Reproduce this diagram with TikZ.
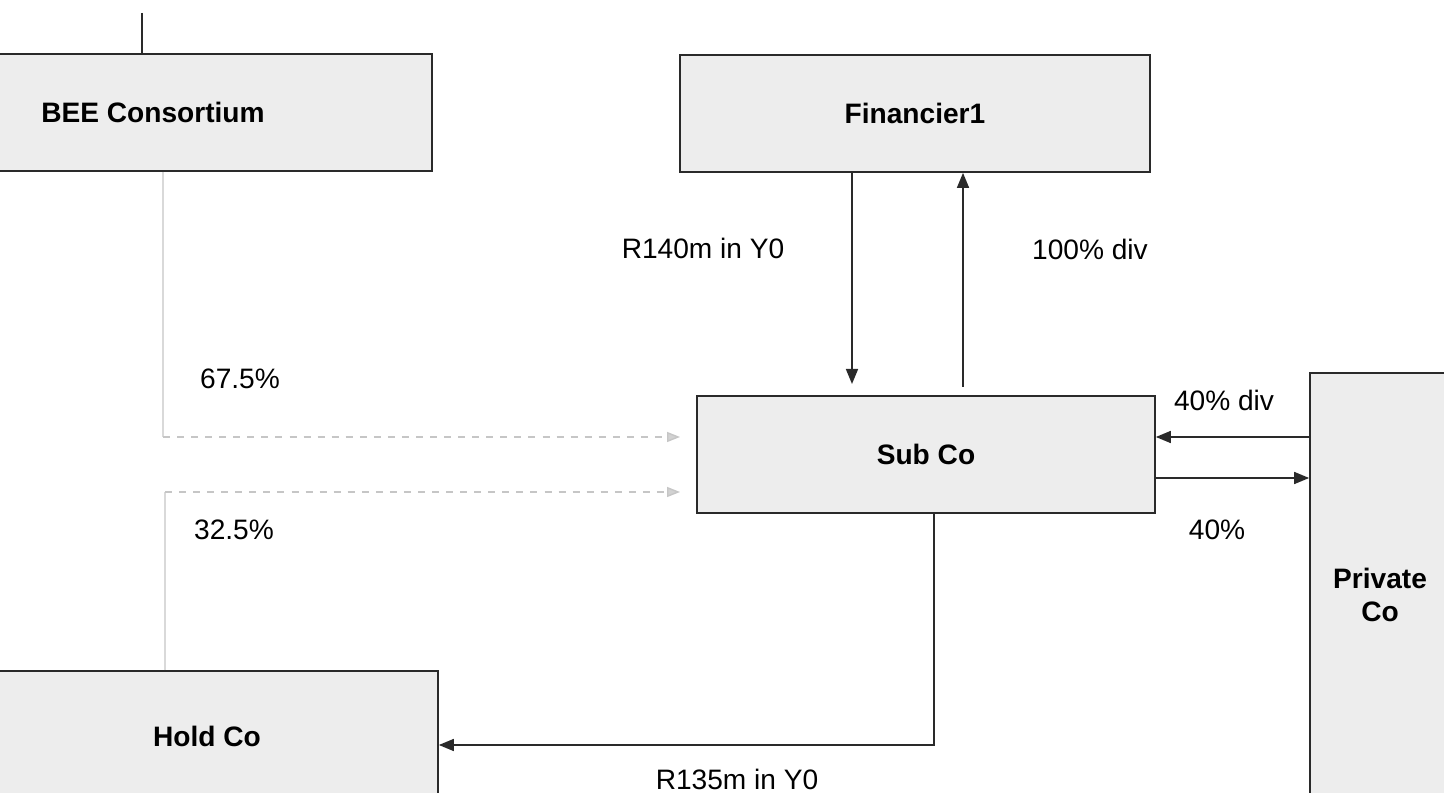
\documentclass[tikz,border=0pt]{standalone}
\usepackage{fontspec}
\setmainfont{Liberation Sans}
\usepackage{tikz}
\usetikzlibrary{positioning,calc,arrows.meta}
\definecolor{boxgray}{HTML}{EDEDED}
\definecolor{linegray}{HTML}{2A2A2A}
\tikzset{
  box/.style={draw=linegray, fill=boxgray, line width=1pt, font=\fontsize{16pt}{19pt}\selectfont\bfseries, align=center, inner sep=0pt},
  lbl/.style={font=\fontsize{16pt}{19pt}\selectfont, inner sep=0pt},
  arr/.style={draw=linegray, line width=0.9pt, -{Triangle[length=0.3cm,width=0.24cm]}},
  faint/.style={draw=gray!30, line width=0.8pt},
  dasharr/.style={draw=gray!45, line width=0.8pt, dash pattern=on 4pt off 4pt, -{Triangle[length=0.26cm,width=0.2cm,fill=gray!35]}}
}

\begin{document}
\begin{tikzpicture}[x=0.02cm, y=-0.02cm]
  \useasboundingbox (0,0) rectangle (1444,793);
  \fill[white] (0,0) rectangle (1444,793);
  \clip (0,0) rectangle (1444,793);
  % boxes
  \node[box, minimum width=11.16cm, minimum height=2.34cm] (bee) at (153,112.5) {BEE Consortium};
  \node[box, minimum width=9.4cm, minimum height=2.34cm] (fin) at (915,113.5) {Financier1};
  \node[box, minimum width=9.16cm, minimum height=2.34cm] (subco) at (926,454.5) {Sub Co};
  \node[box, minimum width=2.8cm, minimum height=8.88cm] (privco) at (1380,595) {Private\\Co};
  \node[box, minimum width=9.24cm, minimum height=2.6cm] (holdco) at (207,736) {Hold Co};
  % helper points
  \coordinate (up) at (142,13);
  \coordinate (dn) at (852,384);
  \coordinate (upst) at (963,387);
  \coordinate (corner) at (934,745);
  \coordinate (d1) at (680,437);
  \coordinate (d2) at (680,492);
  \coordinate (v1) at (163,437);
  \coordinate (v2) at (165,492);
  % connectors
  \draw[linegray, line width=0.9pt] (up) -- (bee.north -| up);
  \draw[arr] (fin.south -| dn) -- (dn);
  \draw[arr] (upst) -- (fin.south -| upst);
  \draw[arr] (privco.west |- 0,437) -- (subco.east |- 0,437);
  \draw[arr] (subco.east |- 0,478) -- (privco.west |- 0,478);
  \draw[arr] (subco.south -| corner) -- (corner) -- (holdco.east |- corner);
  \draw[faint] (bee.south -| v1) -- (v1);
  \draw[dasharr] (v1) -- (d1);
  \draw[faint] (holdco.north -| v2) -- (v2);
  \draw[dasharr] (v2) -- (d2);
  % labels
  \node[lbl] (l140) at (703,248) {R140m in Y0};
  \node[lbl] (l100) at (1090,249) {100\% div};
  \node[lbl] (l675) at (240,379) {67.5\%};
  \node[lbl] (l325) at (234,530) {32.5\%};
  \node[lbl] (l40d) at (1224,400) {40\% div};
  \node[lbl] (l40) at (1217,530) {40\%};
  \node[lbl] (l135) at (737,779) {R135m in Y0};
\end{tikzpicture}
\end{document}
